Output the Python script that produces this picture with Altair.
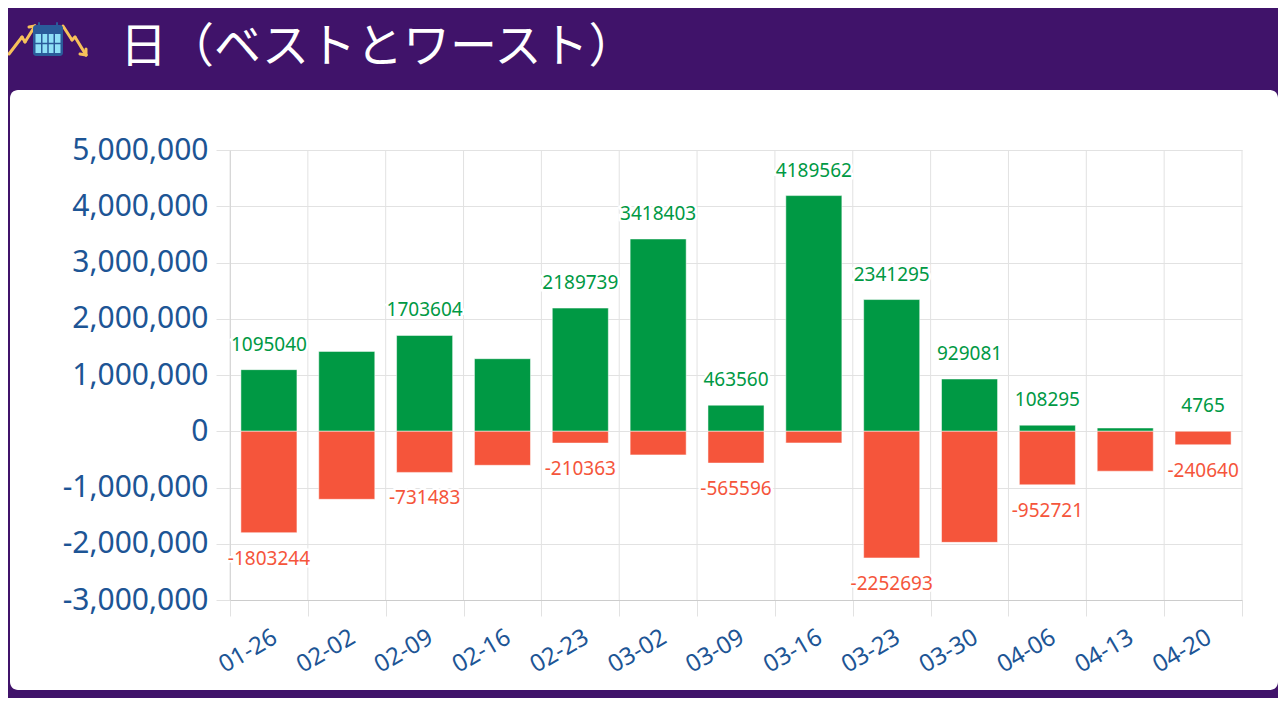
import altair as alt
import pandas as pd

# ---- data ----
weeks = ["01-26", "02-02", "02-09", "02-16", "02-23", "03-02", "03-09",
         "03-16", "03-23", "03-30", "04-06", "04-13", "04-20"]
best = [1095040, 1420000, 1703604, 1290000, 2189739, 3418403, 463560,
        4189562, 2341295, 929081, 108295, 58000, 4765]
worst = [-1803244, -1210000, -731483, -605000, -210363, -420000, -565596,
         -208000, -2252693, -1975000, -952721, -710000, -240640]
# which value labels are visible in the original
best_shown = [True, False, True, False, True, True, True,
              True, True, True, True, False, True]
worst_shown = [True, False, True, False, True, False, True,
               False, True, False, True, False, True]
y_ticks = [-3000000, -2000000, -1000000, 0, 1000000, 2000000, 3000000,
           4000000, 5000000]
title_text = "日（ベストとワースト）"

GREEN = "#009944"
RED = "#f5553b"
PURPLE = "#40136a"
AXIS_BLUE = "#1d5595"
GRID = "#e2e2e2"

df = pd.DataFrame({
    "week": weeks,
    "best": best,
    "worst": worst,
    "best_label": [str(v) for v in best],
    "worst_label": [str(v) for v in worst],
    "best_shown": best_shown,
    "worst_shown": worst_shown,
})

W, H = 1268, 600  # plot area = white card

x_scale = alt.Scale(range=[220, 1232], paddingInner=0, paddingOuter=0)
x_enc = alt.X(
    "week:N",
    sort=weeks,
    scale=x_scale,
    axis=alt.Axis(
        title=None, orient="bottom", offset=-90, tickBand="extent",
        labelAngle=-30, labelAlign="right", labelBaseline="top",
        labelFontSize=24, labelColor=AXIS_BLUE, labelFont="Noto Sans",
        labelPadding=9, tickSize=16, tickColor=GRID,
        domainColor="#cccccc", grid=False,
    ),
)
xs = alt.X("week:N", sort=weeks)

y_scale = alt.Scale(domain=[-3000000, 5000000], range=[510, 60], nice=False, zero=False)
y_axis = alt.Axis(
    title=None, orient="left", offset=-220, values=y_ticks,
    labelExpr="replace(format(datum.value, ','), '\u2212', '-')",
    labelFontSize=30, labelColor=AXIS_BLUE, labelFont="Noto Sans",
    labelPadding=8, tickSize=14, tickColor=GRID, gridColor=GRID,
    domainColor="#cccccc", grid=True,
)

base = alt.Chart(df)
one = alt.Chart(alt.Data(values=[{}]))

# vertical grid lines at the category boundaries
vgrid = base.mark_rule(color=GRID, strokeWidth=1).encode(
    x=alt.X("week:N", sort=weeks, bandPosition=0),
    y=alt.value(60), y2=alt.value(510),
)
vgrid_end = one.mark_rule(color=GRID, strokeWidth=1).encode(
    x=alt.value(1232), y=alt.value(60), y2=alt.value(510))

bar_w = alt.RelativeBandSize(band=0.72)
best_bars = base.mark_bar(color=GREEN, stroke="white", strokeWidth=1,
                          strokeOpacity=0.5, width=bar_w).encode(
    x=x_enc,
    y=alt.Y("best:Q", scale=y_scale, axis=y_axis),
)
worst_bars = base.mark_bar(color=RED, stroke="white", strokeWidth=1,
                           strokeOpacity=0.5, width=bar_w).encode(
    x=xs,
    y=alt.Y("worst:Q"),
)

def label_layers(field, text_field, flag, color, dy):
    src = base.transform_filter(f"datum.{flag}")
    halo = src.mark_text(
        font="Noto Sans", fontSize=19, dy=dy, baseline="middle",
        stroke="white", strokeWidth=5, color="white",
    ).encode(x=xs, y=alt.Y(f"{field}:Q"), text=f"{text_field}:N")
    txt = src.mark_text(
        font="Noto Sans", fontSize=19, dy=dy, baseline="middle", color=color,
    ).encode(x=xs, y=alt.Y(f"{field}:Q"), text=f"{text_field}:N")
    return [halo, txt]

title = one.mark_text(
    text=title_text, font="Noto Sans CJK JP", fontSize=47,
    color="white", align="left", baseline="alphabetic",
).encode(x=alt.value(110), y=alt.value(-28))

# decorative title icon (rising line, calendar, falling line)
YELLOW = "#f7c15a"
def seg(x1, y1, x2, y2, color=YELLOW, w=3):
    return one.mark_rule(color=color, strokeWidth=w, strokeCap="round").encode(
        x=alt.value(x1), y=alt.value(y1), x2=alt.value(x2), y2=alt.value(y2))

def box(x1, y1, x2, y2, color, r=0):
    return one.mark_rect(color=color, cornerRadius=r).encode(
        x=alt.value(x1), y=alt.value(y1), x2=alt.value(x2), y2=alt.value(y2))

icon = [
    seg(-1, -36, 12, -53), seg(12, -53, 15, -48), seg(15, -48, 25, -64),
    seg(25, -64, 19, -63), seg(25, -64, 26, -58),
    seg(53, -64, 62, -50), seg(62, -50, 65, -53), seg(65, -53, 76, -35),
    seg(76, -35, 70, -36), seg(76, -35, 76, -41),
    box(23, -65, 53, -34, "#2a5b9a", 3),
    box(25.5, -56, 50.5, -37, "#8fe0f7"),
    seg(31.75, -56, 31.75, -37, "#2a5b9a", 1.5),
    seg(38, -56, 38, -37, "#2a5b9a", 1.5),
    seg(44.25, -56, 44.25, -37, "#2a5b9a", 1.5),
    seg(25.5, -46.5, 50.5, -46.5, "#2a5b9a", 1.5),
    seg(29, -67, 29, -62, "#2a5b9a", 2), seg(47, -67, 47, -62, "#2a5b9a", 2),
]

layers = ([vgrid, vgrid_end, best_bars, worst_bars]
          + label_layers("best", "best_label", "best_shown", GREEN, -25)
          + label_layers("worst", "worst_label", "worst_shown", RED, 26)
          + [title] + icon)

chart = alt.layer(*layers).properties(
    width=W, height=H,
    background=PURPLE,
    padding={"left": 2, "top": 82, "right": 0, "bottom": 8},
    autosize=alt.AutoSizeParams(type="none"),
).configure_view(
    fill="white", stroke=None, cornerRadius=8,
)

chart.save("out.html", embed_options={"renderer": "svg", "actions": False})
